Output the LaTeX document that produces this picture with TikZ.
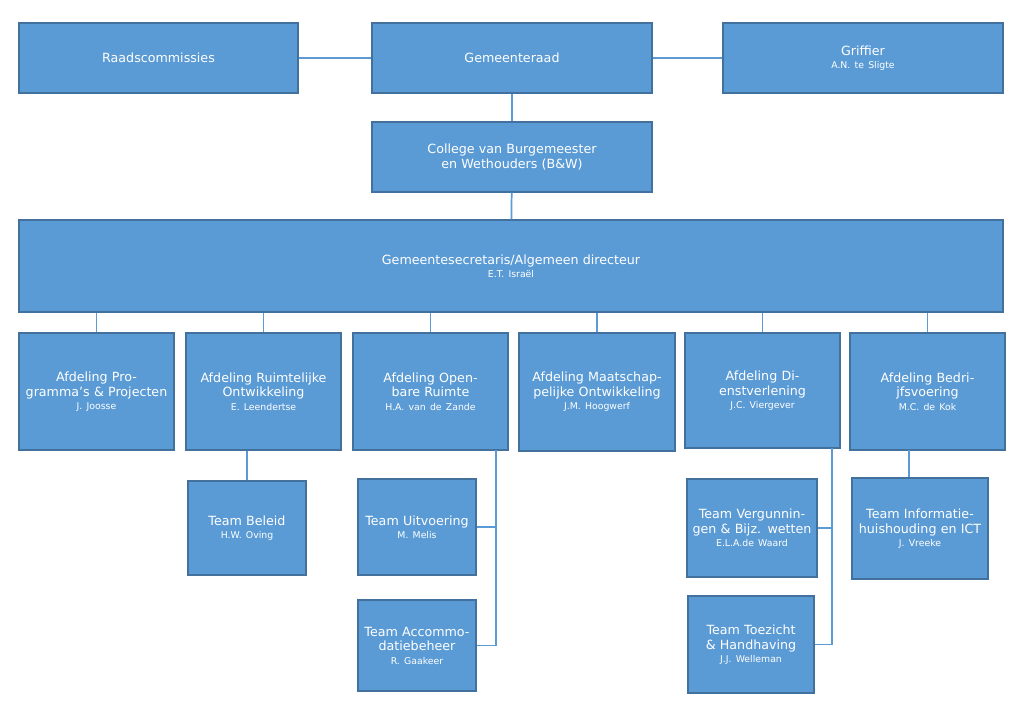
\documentclass[tikz,border=0pt]{standalone}
\usepackage{fontspec}
\setmainfont{DejaVu Sans}
\definecolor{boxblue}{HTML}{5B9BD5}
\definecolor{edgeblue}{HTML}{41719C}
\tikzset{
  org/.style 2 args={draw=edgeblue, line width=1pt, fill=boxblue, text=white, inner sep=2pt,
    minimum width=#1*0.75pt, minimum height=#2*0.75pt, text width=#1*0.75pt-6pt,
    align=center, font=\fontsize{9.5}{11}\selectfont},
  link/.style={draw=boxblue, line width=1.3pt},
}
\newcommand{\who}[1]{\\[-1pt]{\fontsize{7}{8}\selectfont #1}}
\begin{document}
\begin{tikzpicture}[x=0.75pt, y=-0.75pt]
\useasboundingbox (0,0) rectangle (1024,711);

\node [org={279}{70}] (RC) at (158.5, 58) {Raadscommissies};
\node [org={280}{70}] (GR) at (512, 58) {Gemeenteraad};
\node [org={280}{70}] (GF) at (863, 58) {Griffier\who{A.N. te Sligte}};
\node [org={280}{70}] (BW) at (512, 157) {College van Burgemeester en Wethouders (B\&W)};
\node [org={984}{92}] (GS) at (511, 266) {Gemeentesecretaris/Algemeen directeur\who{E.T. Israël}\\[16pt]};

\node [org={155}{117}] (A1) at (96.5, 391.5) {Afdeling Programma’s \& Projecten\who{J. Joosse}};
\node [org={155}{117}] (A2) at (263.5, 391.5) {Afdeling Ruimtelijke Ontwikkeling\who{E. Leendertse}};
\node [org={155}{117}] (A3) at (430.5, 391.5) {Afdeling Openbare Ruimte\who{H.A. van de Zande}};
\node [org={156}{118}] (A4) at (597, 392) {Afdeling Maatschappelijke Ontwikkeling\who{J.M. Hoogwerf}};
\node [org={155}{115}] (A5) at (762.5, 390.5) {Afdeling Dienstverlening\who{J.C. Viergever}\\[12pt]};
\node [org={155}{117}] (A6) at (927.5, 391.5) {Afdeling Bedrijfsvoering\who{M.C. de Kok}\\[12pt]};

\node [org={118}{94}] (TB) at (247, 528) {Team Beleid\who{H.W. Oving}};
\node [org={118}{96}] (TU) at (417, 527) {Team Uitvoering\who{M. Melis}};
\node [org={118}{91}] (TA) at (417, 645.5) {Team Accommo-datiebeheer\who{R. Gaakeer}};
\node [org={130}{98}] (TV) at (752, 528) {Team Vergunningen \& Bijz. wetten\who{E.L.A.de Waard}};
\node [org={126}{97}] (TT) at (751, 644.5) {Team Toezicht \& Handhaving\who{J.J. Welleman}};
\node [org={136}{101}] (TI) at (920, 528.5) {Team Informatie-huishouding en ICT\who{J. Vreeke}};

\coordinate (a3) at (496, 450);
\coordinate (a5) at (832, 448);
\coordinate (a6) at (909, 450);

\draw [link] (RC) -- (GR);
\draw [link] (GR) -- (GF);
\draw [link] (GR) -- (BW);
\draw [link] (BW) -- (GS);
\foreach \a in {A1, A2, A3, A4, A5, A6}
  \draw [link] (GS.south -| \a.north) -- (\a.north);
\draw [link] (A2.south -| TB.north) -- (TB.north);
\draw [link] (a3) |- (TA.east);
\draw [link] (a3 |- TU.east) -- (TU.east);
\draw [link] (a5) |- (TT.east);
\draw [link] (a5 |- TV.east) -- (TV.east);
\draw [link] (a6) -- (a6 |- TI.north);

\end{tikzpicture}
\end{document}
